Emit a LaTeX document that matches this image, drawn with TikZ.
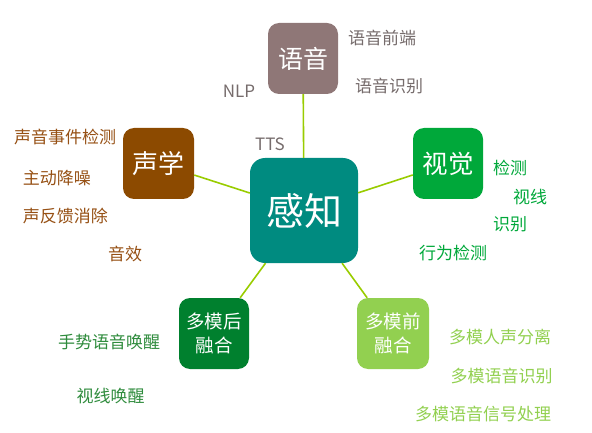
\documentclass[tikz,border=0pt]{standalone}
\usepackage{fontspec}
\setmainfont{Noto Sans CJK SC}
\definecolor{cSpeech}{RGB}{143,119,119}
\definecolor{cAcou}{RGB}{140,74,0}
\definecolor{cVis}{RGB}{0,168,58}
\definecolor{cLate}{RGB}{0,128,46}
\definecolor{cEarly}{RGB}{146,208,80}
\definecolor{cCore}{RGB}{0,139,128}
\definecolor{cLine}{RGB}{153,204,0}
\definecolor{tSpeech}{RGB}{118,108,108}
\definecolor{tAcou}{RGB}{150,80,20}
\definecolor{tVis}{RGB}{0,168,58}
\definecolor{tLate}{RGB}{46,139,60}
\definecolor{tEarly}{RGB}{146,208,80}
\begin{document}
\begin{tikzpicture}[x=1pt,y=-1pt,
  boxn/.style={rounded corners=11pt, inner sep=0pt, minimum width=71pt, minimum height=71pt, text=white, align=center},
  lbl/.style={inner sep=0pt, font=\fontsize{17}{17}\selectfont, anchor=center},
  link/.style={draw=cLine, line width=1.6pt}]
\useasboundingbox (0,0) rectangle (592,433);
\node[boxn, fill=cCore, rounded corners=15pt, minimum width=108pt, minimum height=105pt, font=\fontsize{38}{38}\selectfont] (core) at (304,210.5) {感知};
\node[boxn, fill=cSpeech, minimum width=70pt, font=\fontsize{25}{25}\selectfont] (speech) at (303,58.5) {语音};
\node[boxn, fill=cAcou, font=\fontsize{26}{26}\selectfont] (acou) at (158.5,163.5) {声学};
\node[boxn, fill=cVis, minimum width=70pt, font=\fontsize{25.5}{25.5}\selectfont] (vis) at (448,163.5) {视觉};
\node[boxn, fill=cLate, minimum width=70pt, font=\fontsize{18.5}{24}\selectfont] (late) at (214,333.5) {多模后\\融合};
\node[boxn, fill=cEarly, minimum width=72pt, font=\fontsize{18.5}{24}\selectfont] (early) at (393,333.5) {多模前\\融合};
\draw[link] (speech) -- (core);
\draw[link] (acou) -- (core);
\draw[link] (vis) -- (core);
\draw[link] (late) -- (core);
\draw[link] (early) -- (core);
% speech labels
\node[lbl, text=tSpeech] (s1) at (382,38) {语音前端};
\node[lbl, text=tSpeech] (s2) at (389,86) {语音识别};
\node[lbl, text=tSpeech] (s3) at (239,91) {NLP};
\node[lbl, text=tSpeech] (s4) at (270,144) {TTS};
% acoustic labels
\node[lbl, text=tAcou] (a1) at (65,137) {声音事件检测};
\node[lbl, text=tAcou] (a2) at (57,178) {主动降噪};
\node[lbl, text=tAcou] (a3) at (65.5,216) {声反馈消除};
\node[lbl, text=tAcou] (a4) at (125,254) {音效};
% vision labels
\node[lbl, text=tVis] (v1) at (510,168) {检测};
\node[lbl, text=tVis] (v2) at (530,197) {视线};
\node[lbl, text=tVis] (v3) at (510,224) {识别};
\node[lbl, text=tVis] (v4) at (453,253) {行为检测};
% late fusion labels
\node[lbl, text=tLate] (l1) at (109,342) {手势语音唤醒};
\node[lbl, text=tLate] (l2) at (110.5,396) {视线唤醒};
% early fusion labels
\node[lbl, text=tEarly] (e1) at (500,337) {多模人声分离};
\node[lbl, text=tEarly] (e2) at (501.5,376) {多模语音识别};
\node[lbl, text=tEarly] (e3) at (483,414) {多模语音信号处理};
\end{tikzpicture}
\end{document}
